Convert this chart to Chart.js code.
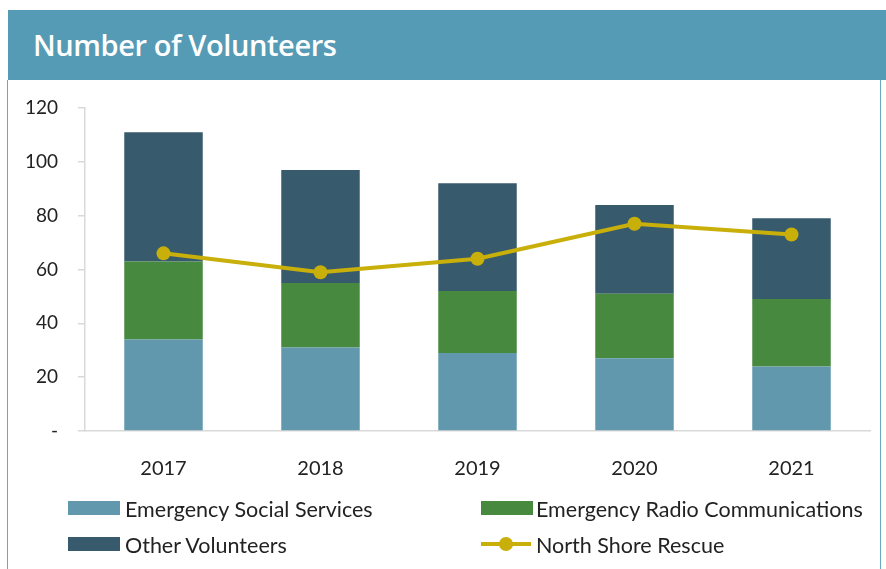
<!DOCTYPE html>
<html>
<head>
<meta charset="utf-8">
<script src="https://cdn.jsdelivr.net/npm/chart.js@4"></script>
<style>
  html, body { margin: 0; padding: 0; background: #fff; width: 886px; height: 569px; overflow: hidden; font-family: Lato, "Open Sans", sans-serif; }
  #header { position: absolute; left: 8px; top: 10px; width: 878px; height: 70px; background: #569bb5; }
  #header h1 { position: absolute; left: 25px; top: 16px; margin: 0; color: #fff; font: 600 29px "Open Sans", sans-serif; line-height: 38px; letter-spacing: -0.4px; }
  #panel { position: absolute; left: 7px; top: 80px; width: 872px; height: 520px; border: 1.5px solid #6aa8bf; border-top: none; }
  #wrap { position: absolute; left: 0; top: 0; width: 886px; height: 569px; }
  .lg { position: absolute; height: 24px; line-height: 24px; font: 21.5px Lato, sans-serif; color: #222; white-space: nowrap; }
  .lg .sw { position: absolute; left: 0; top: 4px; width: 52px; height: 14px; }
  .lg .ln { position: absolute; left: 0; top: 9px; width: 50px; height: 4px; }
  .lg .dot { position: absolute; left: 18px; top: 4px; width: 14px; height: 14px; border-radius: 50%; }
  .lg .tx { position: absolute; left: 57px; top: -1px; }
</style>
</head>
<body>
<div id="header"><h1>Number of Volunteers</h1></div>
<div id="panel"></div>
<div id="wrap"><canvas id="chart" width="886" height="569"></canvas></div>
<div id="legend"></div>
<script>
// Volunteer counts by program, 2017–2021
const years = ['2017', '2018', '2019', '2020', '2021'];
const emergencySocialServices = [34, 31, 29, 27, 24];
const emergencyRadioComms = [29, 24, 23, 24, 25];
const otherVolunteers = [48, 42, 40, 33, 30];
const northShoreRescue = [66, 59, 64, 77, 73];
const yTicks = [0, 20, 40, 60, 80, 100, 120];

const seriesNames = ['Emergency Social Services', 'Emergency Radio Communications', 'Other Volunteers', 'North Shore Rescue'];
const seriesColors = ['#6298ae', '#47893f', '#375b6c', '#c8af0a'];

const barDs = (i, data) => ({
  type: 'bar',
  label: seriesNames[i],
  data: data,
  backgroundColor: seriesColors[i],
  borderWidth: 0,
  stack: 'volunteers',
  order: 2,
  barPercentage: 0.5,
  categoryPercentage: 1.0
});

new Chart(document.getElementById('chart'), {
  data: {
    labels: years,
    datasets: [
      barDs(0, emergencySocialServices),
      barDs(1, emergencyRadioComms),
      barDs(2, otherVolunteers),
      {
        type: 'line',
        label: seriesNames[3],
        data: northShoreRescue,
        borderColor: seriesColors[3],
        backgroundColor: seriesColors[3],
        borderWidth: 4,
        pointRadius: 7,
        pointBorderWidth: 0,
        pointBackgroundColor: seriesColors[3],
        tension: 0,
        stack: 'rescue',
        order: 1
      }
    ]
  },
  options: {
    responsive: false,
    animation: false,
    layout: { padding: { left: 0, right: 16, top: 108, bottom: 78 } },
    plugins: { legend: { display: false }, tooltip: { enabled: false } },
    scales: {
      x: {
        stacked: true,
        grid: { display: false },
        border: { display: true, color: '#d9d9d9', width: 1.5 },
        ticks: { color: '#222', font: { family: 'Lato', size: 20 }, padding: 18 },
        afterFit: s => { s.height = 60; }
      },
      y: {
        stacked: true,
        min: 0,
        max: 120,
        afterBuildTicks: s => { s.ticks = yTicks.map(v => ({ value: v })); },
        grid: { drawOnChartArea: false, drawTicks: true, tickLength: 7, color: '#d9d9d9', lineWidth: 1.5 },
        border: { display: true, color: '#d9d9d9', width: 1.5 },
        ticks: {
          color: '#222',
          font: { family: 'Lato', size: 19 },
          padding: 20,
          callback: v => (v === 0 ? '-' : String(v))
        },
        afterFit: s => { s.width = 85; }
      }
    }
  }
});

// Two-column legend built from the series names and colours
const legendPos = [
  { left: 68, top: 497 },
  { left: 481, top: 497 },
  { left: 68, top: 533 },
  { left: 481, top: 533 }
];
const legend = document.getElementById('legend');
seriesNames.forEach((name, i) => {
  const el = document.createElement('div');
  el.className = 'lg';
  el.style.left = legendPos[i].left + 'px';
  el.style.top = legendPos[i].top + 'px';
  if (i < 3) {
    el.innerHTML = '<span class="sw" style="background:' + seriesColors[i] + '"></span>';
  } else {
    el.innerHTML = '<span class="ln" style="background:' + seriesColors[i] + '"></span>' +
                   '<span class="dot" style="background:' + seriesColors[i] + '"></span>';
  }
  const tx = document.createElement('span');
  tx.className = 'tx';
  tx.textContent = name;
  if (legendPos[i].left > 400) tx.style.left = '55px';
  el.appendChild(tx);
  legend.appendChild(el);
});
</script>
</body>
</html>
